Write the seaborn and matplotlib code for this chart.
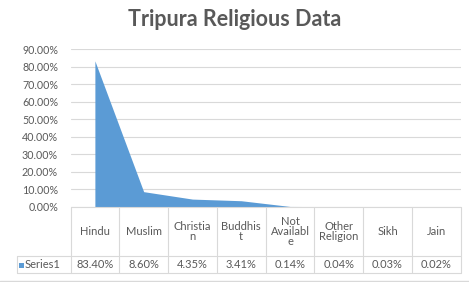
import matplotlib
matplotlib.use("Agg")
import matplotlib.pyplot as plt
import matplotlib.transforms as mtransforms
from matplotlib.lines import Line2D
from matplotlib.patches import Rectangle
import seaborn as sns
import pandas as pd

categories = ["Hindu", "Muslim", "Christian", "Buddhist", "Not Available",
              "Other Religion", "Sikh", "Jain"]
header_labels = ["Hindu", "Muslim", "Christia\nn", "Buddhis\nt", "Not\nAvailabl\ne",
                 "Other\nReligion", "Sikh", "Jain"]
values = [0.8340, 0.0860, 0.0435, 0.0341, 0.0014, 0.0004, 0.0003, 0.0002]
value_labels = ["83.40%", "8.60%", "4.35%", "3.41%", "0.14%", "0.04%", "0.03%", "0.02%"]
series_name = "Series1"
title = "Tripura Religious Data"
yticks = [0.0, 0.1, 0.2, 0.3, 0.4, 0.5, 0.6, 0.7, 0.8, 0.9]

sns.set_theme(style="white")
plt.rcParams["font.family"] = ["Lato", "DejaVu Sans"]

W, H = 469, 282
fig = plt.figure(figsize=(W / 100, H / 100), dpi=100)
fig.patch.set_facecolor("white")

def fy(p):
    return (H - p) / H

left_px, right_px = 70.5, 460.7
top_px, bot_px = 49.3, 206.7
ax = fig.add_axes([left_px / W, fy(bot_px), (right_px - left_px) / W, (bot_px - top_px) / H])

blue = "#5B9BD5"
grid = "#D9D9D9"
textc = "#595959"

df = pd.DataFrame({"x": range(len(categories)), "value": values})
sns.lineplot(data=df, x="x", y="value", ax=ax, color=blue, linewidth=0)
ax.fill_between(df["x"], 0, df["value"], color=blue, linewidth=0, zorder=2)

ax.set_xlim(-0.5, len(categories) - 0.5)
ax.set_ylim(0, 0.9)
ax.set_yticks(yticks)
ax.set_yticklabels([f"{t*100:.2f}%" for t in yticks], color=textc, fontsize=7.7)
ax.tick_params(axis="y", length=0, pad=9)
ax.set_xticks([])
ax.set_xlabel("")
ax.set_ylabel("")
for s in ax.spines.values():
    s.set_visible(False)
ax.yaxis.grid(True, color=grid, linewidth=0.8)
ax.set_axisbelow(True)

fig.text(0.5, fy(19), title, ha="center", va="center", fontsize=15.5,
         fontweight="bold", color=textc)

# data table
tr = mtransforms.blended_transform_factory(ax.transData, fig.transFigure)
n = len(categories)
row_sep = 256.0
tbl_bot = 273.0
lw = 0.8
for i in range(n + 1):
    x = i - 0.5
    fig.add_artist(Line2D([x, x], [fy(bot_px), fy(tbl_bot)], transform=tr,
                          color=grid, linewidth=lw))
fig.add_artist(Line2D([-0.5, n - 0.5], [fy(bot_px), fy(bot_px)], transform=tr,
                      color=grid, linewidth=lw))
x_label_left = 16.5 / W
x0_fig = left_px / W
for p in (row_sep, tbl_bot):
    fig.add_artist(Line2D([x_label_left, x0_fig], [fy(p), fy(p)], transform=fig.transFigure,
                          color=grid, linewidth=lw))
    fig.add_artist(Line2D([-0.5, n - 0.5], [fy(p), fy(p)], transform=tr,
                          color=grid, linewidth=lw))
fig.add_artist(Line2D([x_label_left, x_label_left], [fy(row_sep), fy(tbl_bot)],
                      transform=fig.transFigure, color=grid, linewidth=lw))

hdr_mid = (bot_px + row_sep) / 2
val_mid = (row_sep + tbl_bot) / 2 + 0.5
for i, (lab, vl) in enumerate(zip(header_labels, value_labels)):
    fig.text(i, fy(hdr_mid), lab, transform=tr, ha="center", va="center",
             fontsize=8, color=textc, linespacing=0.9)
    fig.text(i, fy(val_mid), vl, transform=tr, ha="center", va="center",
             fontsize=8, color=textc)

fig.add_artist(Rectangle((18.5 / W, fy(val_mid + 2.5)), 5 / W, 5 / H,
                         transform=fig.transFigure, color=blue, linewidth=0))
fig.text(24.5 / W, fy(val_mid), series_name, ha="left", va="center",
         fontsize=8, color=textc)

fig.add_artist(Line2D([0, 1], [fy(281), fy(281)], transform=fig.transFigure,
                      color=grid, linewidth=1))

fig.savefig("out.png", dpi=100, facecolor="white")
